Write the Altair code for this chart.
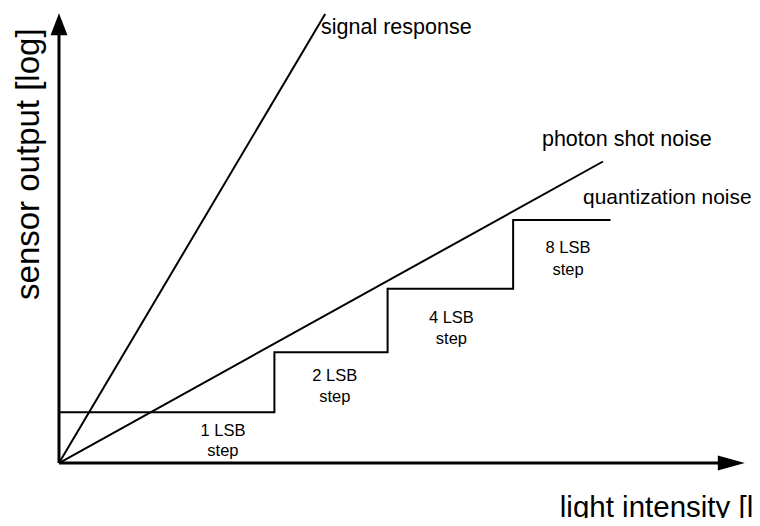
import altair as alt
import pandas as pd

# ---- data (diagram units: origin at the axes' corner, arrow tips at 100) ----
signal_x = [0, 38.8]
signal_y = [0, 99.8]

shot_x = [0, 79.3]
shot_y = [0, 67.0]

quant_x = [0, 31.4, 31.4, 47.9, 47.9, 66.2, 66.2, 80.4]
quant_y = [11.3, 11.3, 24.6, 24.6, 38.7, 38.7, 54.0, 54.0]

series_labels = ["signal response", "photon shot noise", "quantization noise"]
series_label_x = [38.2, 70.4, 76.4]
series_label_y = [96.7, 71.8, 58.9]
series_label_size = [21.5, 21.5, 20.9]

step_labels = ["1 LSB", "step", "2 LSB", "step", "4 LSB", "step", "8 LSB", "step"]
step_label_x = [23.9, 23.9, 40.2, 40.2, 57.2, 57.2, 74.2, 74.2]
step_label_y = [7.2, 2.7, 19.3, 14.7, 32.2, 27.6, 47.8, 42.9]

x_title = "light intensity [lux]"
y_title = "sensor output [log]"

FONT = "Arial, 'Liberation Sans', sans-serif"
XDOM = [-7.434, 101.02]
YDOM = [-12.22, 101.11]

xs = alt.Scale(domain=XDOM, nice=False, zero=False)
ys = alt.Scale(domain=YDOM, nice=False, zero=False)
X = lambda f: alt.X(f, type="quantitative", scale=xs, axis=None)
Y = lambda f: alt.Y(f, type="quantitative", scale=ys, axis=None)

lines_df = pd.concat([
    pd.DataFrame({"x": signal_x, "y": signal_y, "s": "signal", "o": range(len(signal_x))}),
    pd.DataFrame({"x": shot_x, "y": shot_y, "s": "shot", "o": range(len(shot_x))}),
    pd.DataFrame({"x": quant_x, "y": quant_y, "s": "quant", "o": range(len(quant_x))}),
])

lines = alt.Chart(lines_df).mark_line(color="black", strokeWidth=2, strokeCap="butt", strokeJoin="miter").encode(
    x=X("x"), y=Y("y"), detail="s:N", order="o:Q"
)

axes_df = pd.DataFrame({"x": [0, 0], "y": [0, 0], "x2": [97.0, 0], "y2": [0, 97.0]})
axes = alt.Chart(axes_df).mark_rule(color="black", strokeWidth=3).encode(
    x=X("x"), y=Y("y"), x2="x2", y2="y2"
)

head_up = alt.Chart(pd.DataFrame({"x": [0], "y": [97.5]})).mark_point(
    shape="M0,-1L-0.77,1L0.77,1Z", filled=True, color="black", opacity=1, size=484
).encode(x=X("x"), y=Y("y"))

head_right = alt.Chart(pd.DataFrame({"x": [98.0], "y": [0]})).mark_point(
    shape="M1,0L-1,-0.55L-1,0.55Z", filled=True, color="black", opacity=1, size=729
).encode(x=X("x"), y=Y("y"))

series_text = alt.Chart(pd.DataFrame({"t": series_labels, "x": series_label_x, "y": series_label_y,
                                      "fs": series_label_size})).mark_text(
    align="left", baseline="middle", font=FONT, color="black"
).encode(x=X("x"), y=Y("y"), text="t:N", size=alt.Size("fs:Q", scale=None, legend=None))

step_text = alt.Chart(pd.DataFrame({"t": step_labels, "x": step_label_x, "y": step_label_y})).mark_text(
    align="center", baseline="middle", font=FONT, fontSize=16.5, color="black"
).encode(x=X("x"), y=Y("y"), text="t:N")

xtitle = alt.Chart(pd.DataFrame({"t": [x_title], "x": [73.0], "y": [-10.0]})).mark_text(
    align="left", baseline="middle", font=FONT, fontSize=29.5, color="black"
).encode(x=X("x"), y=Y("y"), text="t:N")

ytitle = alt.Chart(pd.DataFrame({"t": [y_title], "x": [-4.4], "y": [66.4]})).mark_text(
    align="center", baseline="middle", font=FONT, fontSize=33, color="black", angle=270
).encode(x=X("x"), y=Y("y"), text="t:N")

chart = alt.layer(lines, axes, head_up, head_right, series_text, step_text, xtitle, ytitle).properties(
    width=744, height=510, autosize=alt.AutoSizeParams(type="none"), padding=0, background="white"
).configure_view(stroke=None)

chart.save("out.html", embed_options={"renderer": "svg", "actions": False})
